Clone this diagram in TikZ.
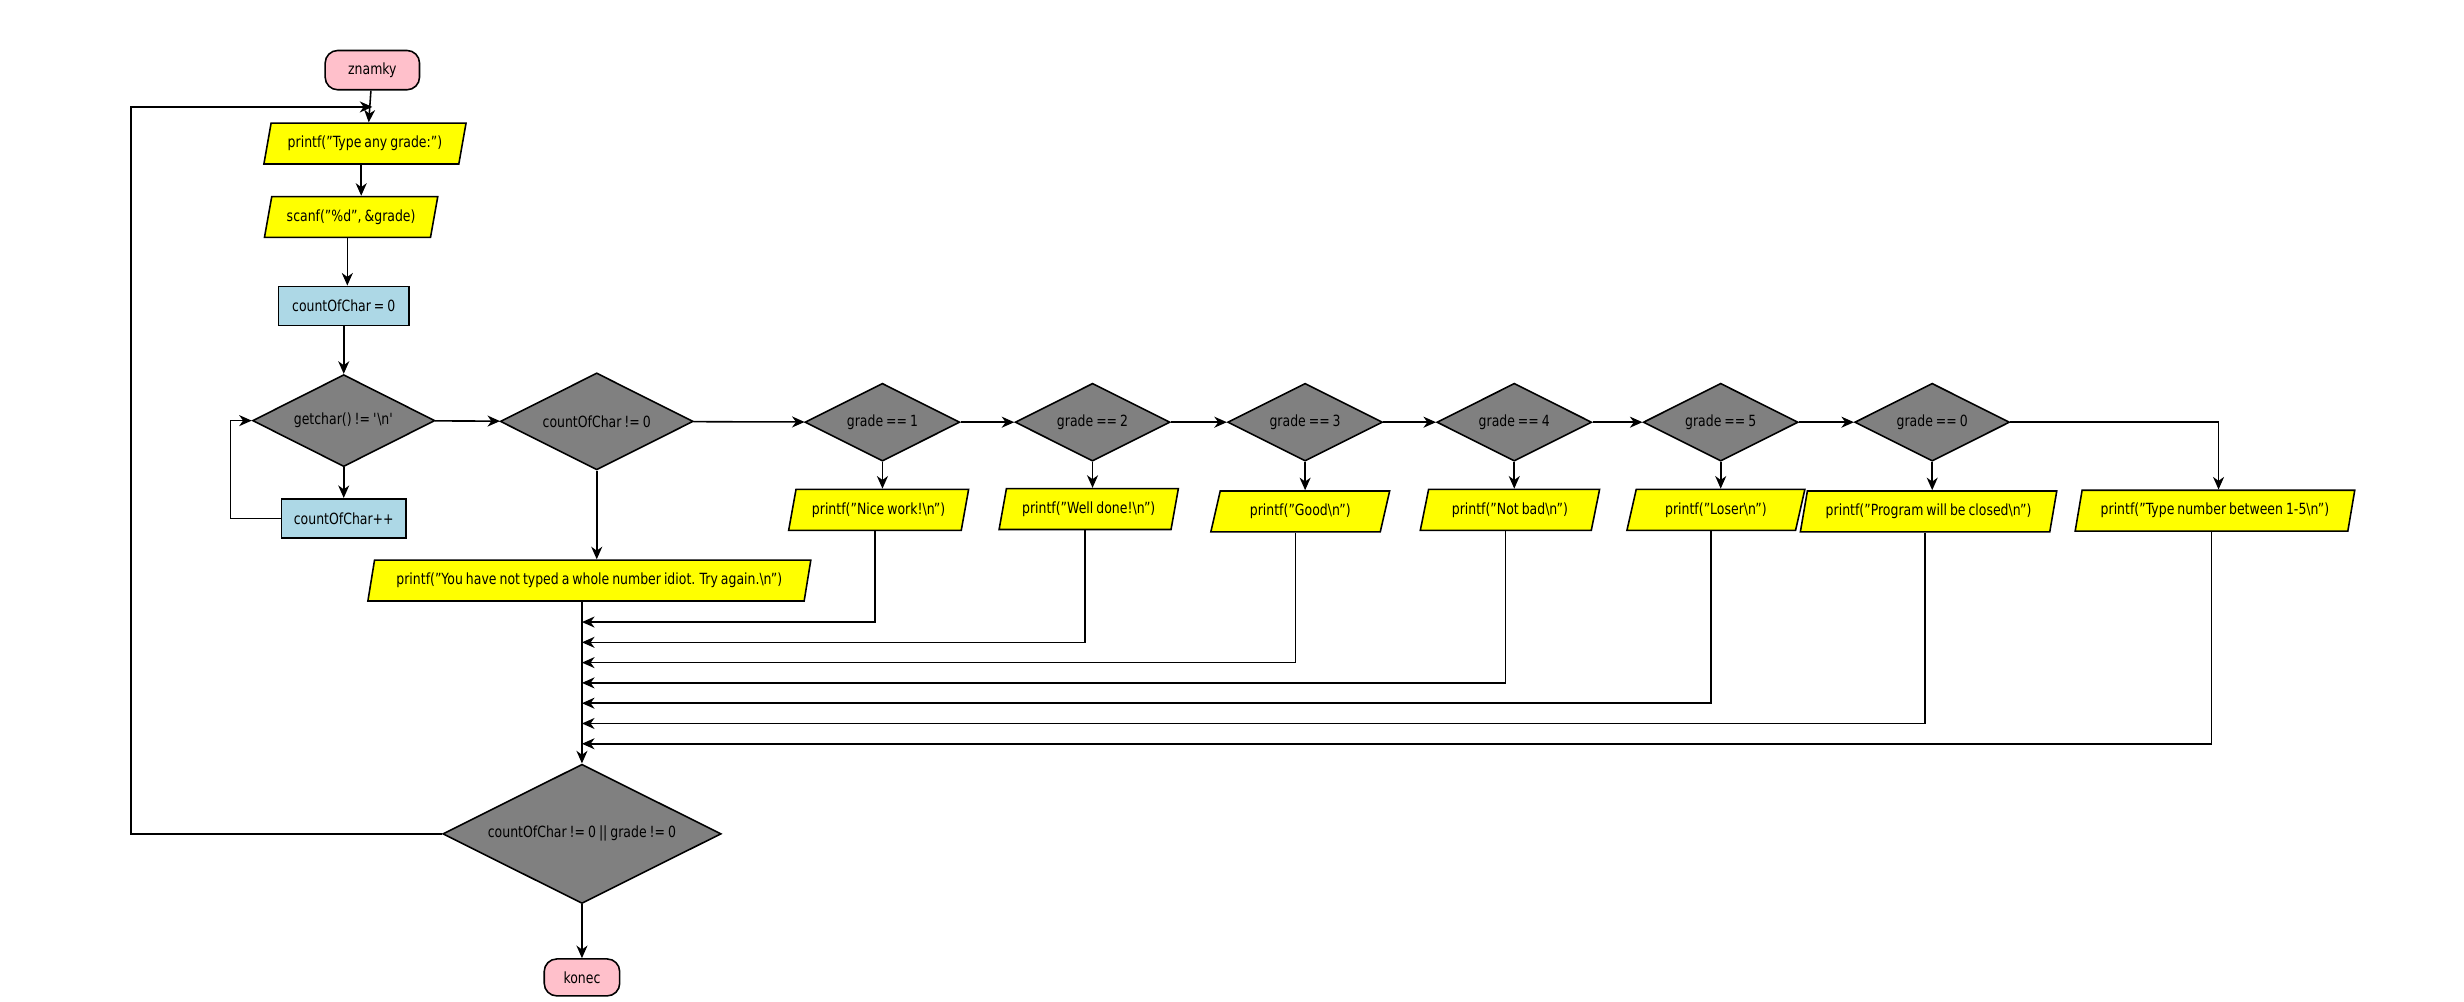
\documentclass[tikz,border=0pt]{standalone}
\usepackage{fontspec}
\setmainfont{DejaVu Sans}[FakeStretch=0.81, WordSpace=0.75]
\usetikzlibrary{shapes.geometric}
\usetikzlibrary{arrows.meta, positioning, calc}
\definecolor{ioyellow}{RGB}{255,255,0}
\definecolor{procblue}{RGB}{173,216,230}
\definecolor{termpink}{RGB}{255,192,203}
\definecolor{decgray}{RGB}{128,128,128}
\newcommand{\bsn}{\textbackslash n}

\begin{document}
\begin{tikzpicture}[x=1pt, y=-1pt,
    every node/.style={font=\fontsize{9.8}{11}\selectfont, line width=1pt},
    term/.style={draw, fill=termpink, rectangle, rounded corners=8pt,
        minimum height=25pt, inner sep=1pt},
    io/.style={draw, fill=ioyellow, trapezium, trapezium left angle=70,
        trapezium right angle=110, trapezium stretches=true,
        minimum height=26pt, inner sep=0.5pt},
    proc/.style={draw, fill=procblue, rectangle, minimum height=25pt},
    decision/.style={draw, fill=decgray, diamond, aspect=2, inner sep=0pt},
    flow/.style={line width=1pt, -{Stealth[length=8pt, width=7pt, inset=2.5pt]}}]
    \useasboundingbox (0,0) rectangle (1567,636.6);

    % left column
    \node[term, minimum width=60pt] (start) at (236.8,44.6) {znamky};
    \node[io, minimum width=128.6pt] (askgrade) at (232.1,91.3) {printf("Type any grade:")};
    \node[io, minimum width=110.7pt] (readgrade) at (223.3,138) {scanf("\%d", \&grade)};
    \node[proc, minimum width=83pt] (cnt0) at (218.6,194.6) {countOfChar = 0};
    \node[decision, minimum width=116pt, minimum height=58.5pt] (getc) at (218.6,267.5)
        {getchar() != \textquotesingle\bsn\textquotesingle};
    \node[proc, minimum width=79pt] (cntinc) at (218.6,329.7) {countOfChar++};
    \node[decision, minimum width=122.7pt, minimum height=61.7pt] (cnz) at (379.5,268)
        {countOfChar != 0};
    \node[io, minimum width=281.7pt] (idiot) at (374.8,369.2)
        {printf("You have not typed a whole number idiot. Try again.\bsn")};
    \node[decision, minimum width=177pt, minimum height=88.6pt] (final) at (370.1,530.3)
        {countOfChar != 0 || grade != 0};
    \node[term, minimum width=48pt, minimum height=23.5pt] (stop) at (370.1,621.6) {konec};

    % grade row
    \foreach \g/\x in {1/561.2, 2/694.8, 3/830, 4/963, 5/1094.3, 0/1228.8}
        \node[decision, minimum width=98.5pt, minimum height=49.5pt] (grade\g) at (\x,268.5)
            {grade == \g};
    \node[io, minimum width=114.5pt, anchor=top side] (nice) at ($(grade1.south)+(0,17)$)
        {printf("Nice work!\bsn")};
    \node[io, minimum width=114.2pt, anchor=top side] (welldone) at ($(grade2.south)+(0,16.5)$)
        {printf("Well done!\bsn")};
    \node[io, minimum width=114.2pt, anchor=top side] (good) at ($(grade3.south)+(0,18)$)
        {printf("Good\bsn")};
    \node[io, minimum width=114.2pt, anchor=top side] (notbad) at ($(grade4.south)+(0,17)$)
        {printf("Not bad\bsn")};
    \node[io, minimum width=113.7pt, anchor=top side] (loser) at ($(grade5.south)+(0,17)$)
        {printf("Loser\bsn")};
    \node[io, minimum width=163.4pt, anchor=top side] (closed) at ($(grade0.south)+(0,18)$)
        {printf("Program will be closed\bsn")};
    \node[io, minimum width=178.1pt, anchor=top side] (between) at (1410.9,311.3)
        {printf("Type number between 1-5\bsn")};

    \coordinate (loopc) at (83.4,68);
    \coordinate (merge) at (final.north |- idiot.south);

    % connectors
    \draw[flow] (start) -- (askgrade.top side);
    \draw[flow] (askgrade.bottom side) -- (askgrade.bottom side |- readgrade.north);
    \draw[flow] (readgrade.bottom side) -- (readgrade.bottom side |- cnt0.north);
    \draw[flow] (cnt0) -- (getc);
    \draw[flow] (getc) -- (cntinc);
    \draw[flow] (cntinc.west) -- ++(-32,0) |- (getc.west);
    \draw[flow] (getc) -- (cnz);
    \draw[flow] (cnz) -- (cnz |- idiot.north);
    \draw[flow] (cnz) -- (grade1);
    \foreach \a/\b in {1/2, 2/3, 3/4, 4/5, 5/0}
        \draw[flow] (grade\a) -- (grade\b);
    \foreach \g/\b in {1/nice, 2/welldone, 3/good, 4/notbad, 5/loser, 0/closed}
        \draw[flow] (grade\g) -- (\b.top side);
    \draw[flow] (grade0) -| (between.top side);
    \draw[flow] (merge) -- (final);
    \foreach \b [count=\i] in {nice, welldone, good, notbad, loser, closed, between}
        \draw[flow] (\b.bottom side) |- ($(merge)+(0,{12.9*\i})$);
    \draw[flow] (final.west) -| (loopc) -- (loopc -| start.south);
    \draw[flow] (final) -- (stop);
\end{tikzpicture}
\end{document}
